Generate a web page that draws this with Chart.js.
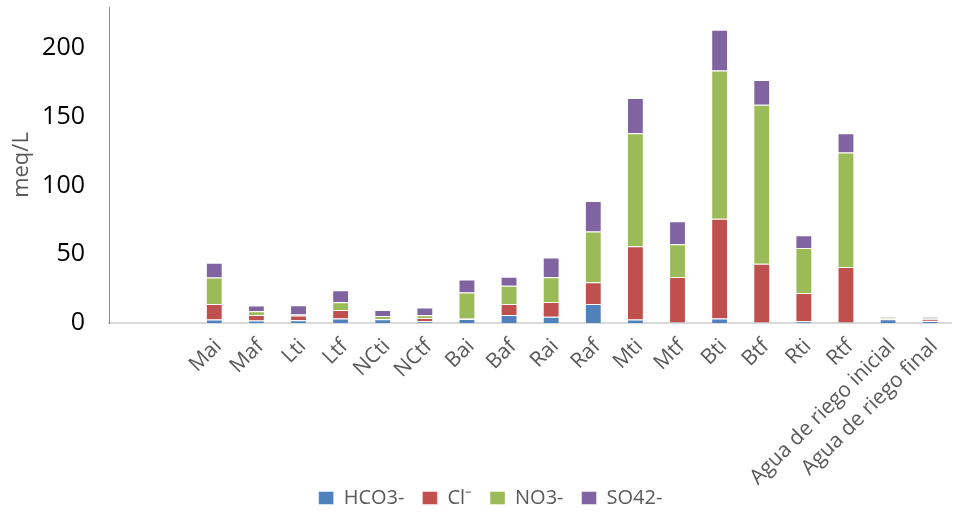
<!DOCTYPE html>
<html>
<head>
<meta charset="utf-8">
<script src="https://cdn.jsdelivr.net/npm/chart.js@4/dist/chart.umd.min.js"></script>
<style>
  html, body { margin: 0; padding: 0; background: #ffffff; }
  #wrap { width: 959px; height: 512px; position: relative; }
</style>
</head>
<body>
<div id="wrap"><canvas id="chart"></canvas></div>
<script>
// Sampling points (two leading empty slots on the category axis)
const categories = ['', '', 'Mai', 'Maf', 'Lti', 'Ltf', 'NCti', 'NCtf', 'Bai', 'Baf', 'Rai', 'Raf',
  'Mti', 'Mtf', 'Bti', 'Btf', 'Rti', 'Rtf', 'Agua de riego inicial', 'Agua de riego final'];

// Anion concentrations, meq/L
const hco3 = [null, null, 2.5, 1.8, 2.0, 3.2, 2.7, 1.2, 2.9, 5.8, 4.6, 13.9, 2.5, 0.3, 3.2, 0.3, 1.2, 0.3, 2.7, 1.5];
const cl   = [null, null, 11.4, 4.1, 3.4, 6.3, 0.2, 2.4, 0.3, 8.1, 10.7, 15.7, 53.3, 33.1, 72.7, 42.8, 20.7, 40.4, 0.5, 1.0];
const no3  = [null, null, 19.2, 2.7, 0.7, 5.6, 2.2, 2.0, 19.0, 13.3, 18.0, 37.0, 82.4, 24.0, 107.8, 115.8, 32.6, 83.4, 0.8, 0.8];
const so4  = [null, null, 10.7, 4.2, 6.8, 8.8, 4.4, 5.6, 9.5, 6.4, 14.4, 22.2, 25.6, 16.6, 29.7, 18.0, 9.3, 14.1, 0.9, 1.1];

const seriesNames = ['HCO3-', 'Cl\u207B', 'NO3-', 'SO42-'];
const yTicks = [0, 50, 100, 150, 200];

const FONT = "'Open Sans', 'Liberation Sans', sans-serif";
const colors = ['#4F81BD', '#C0504D', '#9BBB59', '#8064A2'];

const datasets = [hco3, cl, no3, so4].map((values, i) => ({
  label: seriesNames[i],
  data: values,
  backgroundColor: colors[i],
  borderColor: 'rgba(255,255,255,0.45)',
  borderWidth: 1,
  barPercentage: 0.4,
  categoryPercentage: 1.0
}));

// Let the slanted category labels run below the axis box, and set the legend
// row into the free space under the short labels.
const bottomBand = {
  id: 'bottomBand',
  afterLayout(chart) {
    chart.scales.x.bottom = chart.height;
    const lg = chart.legend;
    if (lg) {
      const h = lg.bottom - lg.top;
      lg.top = 470;
      lg.bottom = lg.top + h;
      lg.left += 9;
      lg.right += 9;
    }
  }
};

new Chart(document.getElementById('chart'), {
  type: 'bar',
  data: { labels: categories, datasets },
  plugins: [bottomBand],
  options: {
    responsive: true,
    maintainAspectRatio: false,
    animation: false,
    layout: { padding: { top: 7, right: -4, bottom: 0, left: 0 } },
    plugins: {
      tooltip: { enabled: false },
      legend: {
        position: 'bottom',
        labels: {
          color: '#595959',
          font: { family: FONT, size: 20 },
          boxWidth: 15,
          boxHeight: 13,
          padding: 18
        }
      }
    },
    scales: {
      x: {
        stacked: true,
        grid: { display: false, drawTicks: false },
        border: { display: true, color: '#d9d9d9', width: 2 },
        ticks: {
          autoSkip: false,
          minRotation: 45,
          maxRotation: 45,
          padding: 11,
          labelOffset: 4,
          color: '#595959',
          font: { family: FONT, size: 21 }
        },
        afterFit(scale) { scale.height = 141; }
      },
      y: {
        stacked: true,
        min: 0,
        max: 230,
        grid: { display: false, drawTicks: false },
        border: { display: true, color: '#8c8c8c', width: 1 },
        afterBuildTicks(scale) { scale.ticks = yTicks.map(v => ({ value: v })); },
        ticks: {
          padding: 24,
          color: '#000000',
          font: { family: FONT, size: 25 }
        },
        title: {
          display: true,
          text: 'meq/L',
          color: '#595959',
          font: { family: FONT, size: 22 },
          padding: { top: 9, bottom: 0 }
        },
        afterFit(scale) {
          scale.width = 109;
          scale.paddingTop = 0;
          scale.paddingBottom = 0;
        }
      }
    }
  }
});
</script>
</body>
</html>
